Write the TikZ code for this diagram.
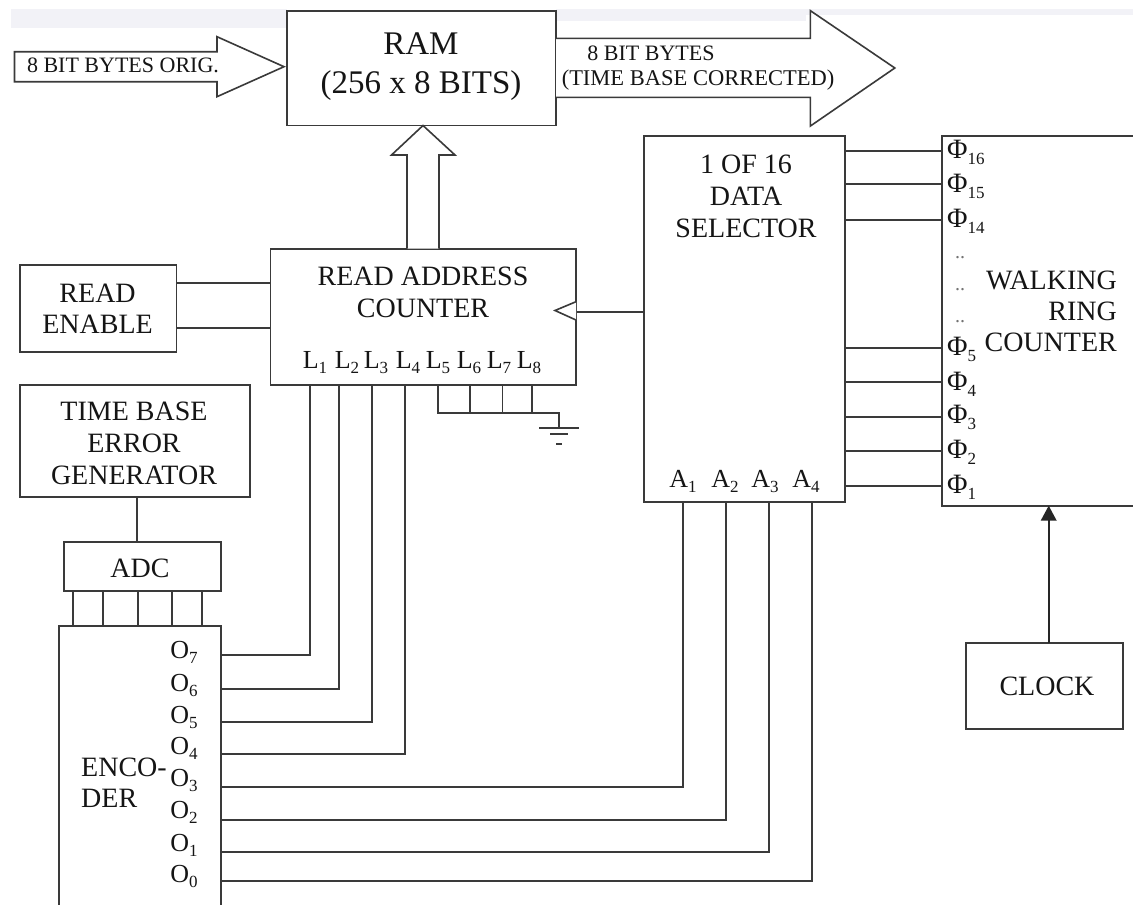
\documentclass[tikz,border=0pt]{standalone}
\usepackage{fontspec}
\setmainfont{Liberation Serif}
\usetikzlibrary{arrows.meta,calc}
\definecolor{ink}{HTML}{3A3A3A}
\definecolor{txt}{HTML}{151515}
\definecolor{band}{HTML}{F2F2F7}
\newcommand\fsz[1]{\fontsize{#1}{#1}\selectfont}
\newcommand\pinlab[2]{#1\raisebox{-0.22em}{\fsz{17}#2}}
\tikzset{
  blockbox/.style={draw=ink,line width=1.7pt,fill=white,inner sep=0pt,outer sep=0pt},
  wire/.style={draw=ink,line width=1.7pt},
  clockwire/.style={draw=black!85,line width=2.2pt},
  bigarrow/.style={draw=ink,line width=1.6pt,fill=white,line join=miter},
  tx/.style={text=txt,inner sep=0pt,align=center,font=\fsz{28}\linespread{1}\selectfont},
  pinlabel/.style={text=txt,inner sep=0pt,anchor=base,font=\fsz{26}},
  philabel/.style={text=txt,inner sep=0pt,anchor=base west,font=\fsz{28}},
  dots/.style={text=black!55,inner sep=0pt,font=\fsz{20}},
}
\newcommand\Bx[5]{\node[blockbox,minimum width={(#4-#2)*1pt},minimum height={(#5-#3)*1pt}] (#1) at ({(#2+#4)/2},{(#3+#5)/2}) {};}
\begin{document}
\begin{tikzpicture}[x=1pt,y=-1pt]
\useasboundingbox (0,0) rectangle (1133,905);
\clip (0,0) rectangle (1133,905);
\fill[white] (0,0) rectangle (1133,905);
% faint band at the top
\fill[band] (11,9) rectangle (287,28);
\fill[band] (556,9) rectangle (806,21);
\fill[band] (806,9) rectangle (1133,15);
% boxes
\Bx{ram}{287}{11}{556}{125.5}
\Bx{rac}{270.6}{248.7}{576}{385}
\Bx{ren}{20.3}{265}{176.4}{351.7}
\Bx{tbe}{20.3}{384.7}{250}{497}
\Bx{adc}{63.7}{541.7}{221.3}{591.3}
\Bx{enc}{59.3}{625.7}{221.3}{925}
\Bx{sel}{644.3}{136.3}{845}{501.7}
\Bx{ring}{942}{136.3}{1150}{505.7}
\Bx{clk}{966}{643.3}{1123.3}{728.7}
% block arrows
\draw[bigarrow] (14.5,51.7) -- (217,51.7) -- (217,36.7) -- (284,66.7) -- (217,96.7) -- (217,81.7) -- (14.5,81.7) -- cycle;
\coordinate (outt) at (894.8,68);
\draw[bigarrow] (ram.east |- 0,38.3) -- (810.4,38.3) -- (810.4,10.7) -- (outt) -- (810.4,126) -- (810.4,97.3) -- (ram.east |- 0,97.3);
\coordinate (upt) at (423,125.5);
\draw[bigarrow] (407,248.7) -- (407,155) -- (391.5,155) -- (upt) -- (455,155) -- (439,155) -- (439,248.7);
% read enable
\coordinate (re1) at (0,283);
\coordinate (re2) at (0,327.7);
\draw[wire] (ren.east |- re1) -- (rac.west |- re1);
\draw[wire] (ren.east |- re2) -- (rac.west |- re2);
% TBE to ADC, ADC to encoder
\coordinate (tb) at (137,0);
\draw[wire] (tbe.south -| tb) -- (adc.north -| tb);
\foreach \xx in {73,103,138,171.7,201.7}{
  \draw[wire] (adc.south -| \xx,0) -- (enc.north -| \xx,0);
}
% encoder to read address counter
\coordinate (c7) at (309.7,655.3);
\coordinate (c6) at (339,688.7);
\coordinate (c5) at (371.7,722);
\coordinate (c4) at (405.3,753.7);
\foreach \cc in {c7,c6,c5,c4}{
  \draw[wire,line join=miter] (enc.east |- \cc) -- (\cc) -- (rac.south -| \cc);
}
% encoder to selector
\coordinate (c3) at (682.7,787);
\coordinate (c2) at (726,820.3);
\coordinate (c1) at (769,851.7);
\coordinate (c0) at (812.3,880.7);
\foreach \cc in {c3,c2,c1,c0}{
  \draw[wire,line join=miter] (enc.east |- \cc) -- (\cc) -- (sel.south -| \cc);
}
% ground
\coordinate (g5) at (438,413);
\coordinate (g6) at (470,413);
\coordinate (g7) at (502.5,413);
\coordinate (g8) at (532,413);
\coordinate (gnd) at (559,427.7);
\draw[wire,line join=miter] (rac.south -| g5) -- (g5) -| (gnd);
\draw[wire] (rac.south -| g6) -- (g6);
\draw[wire] (rac.south -| g7) -- (g7);
\draw[wire] (rac.south -| g8) -- (g8);
\draw[wire] ($(gnd)+(-20,0)$) -- ($(gnd)+(20,0)$);
\draw[wire] ($(gnd)+(-9,6)$) -- ($(gnd)+(9,6)$);
\draw[wire] ($(gnd)+(-3,16)$) -- ($(gnd)+(3,16)$);
% selector to read address counter clock input
\coordinate (clkt) at (555,310.5);
\draw[wire] (rac.east |- 0,311.7) -- (sel.west |- 0,311.7);
\draw[bigarrow] (rac.east |- 0,301.7) -- (clkt) -- (rac.east |- 0,320);
% selector to ring
\foreach \yy in {151.3,184,220,348.3,381.7,417.3,450.7,486}{
  \draw[wire] (sel.east |- 0,\yy) -- (ring.west |- 0,\yy);
}
% clock to ring
\coordinate (ck) at (1048.7,0);
\draw[clockwire,-{Triangle[length=15pt,width=15.5pt]}] (clk.north -| ck) -- (ring.south -| ck);
% texts
\node[tx,font=\fsz{33}] (tram) at (421,66.5) {RAM\\[6pt](256 x 8 BITS)};
\node[tx,font=\fsz{22}] (tin) at (123,65) {8 BIT BYTES ORIG.};
\node[tx,font=\fsz{22}] (tout1) at (651,53) {8 BIT BYTES};
\node[tx,font=\fsz{22.5}] (tout2) at (698,80) {(TIME BASE CORRECTED)};
\node[tx] (tsel) at (746,196) {1 OF 16\\[4pt]DATA\\[4pt]SELECTOR};
\node[tx] (trac) at (423,292) {READ ADDRESS\\[4pt]COUNTER};
\node[tx] (tren) at (97.6,308.5) {READ\\[3pt]ENABLE};
\node[tx] (ttbe) at (134,443) {TIME BASE\\[4pt]ERROR\\[4pt]GENERATOR};
\node[tx] (tadc) at (140,568) {ADC};
\node[tx,align=left,anchor=west] (tenc) at (81,783) {ENCO-\\[3pt]DER};
\node[tx,align=right,anchor=east] (tring) at (1117,311) {WALKING\\[3pt]RING\\[3pt]COUNTER};
\node[tx] (tclk) at (1047,686) {CLOCK};
% L pins
\node[pinlabel] (l1) at (315,368) {\pinlab{L}{1}};
\node[pinlabel] (l2) at (347,368) {\pinlab{L}{2}};
\node[pinlabel] (l3) at (376,368) {\pinlab{L}{3}};
\node[pinlabel] (l4) at (408,368) {\pinlab{L}{4}};
\node[pinlabel] (l5) at (438,368) {\pinlab{L}{5}};
\node[pinlabel] (l6) at (469,368) {\pinlab{L}{6}};
\node[pinlabel] (l7) at (499,368) {\pinlab{L}{7}};
\node[pinlabel] (l8) at (529,368) {\pinlab{L}{8}};
% O pins
\node[pinlabel] (o7) at (184,658) {\pinlab{O}{7}};
\node[pinlabel] (o6) at (184,691) {\pinlab{O}{6}};
\node[pinlabel] (o5) at (184,723) {\pinlab{O}{5}};
\node[pinlabel] (o4) at (184,754) {\pinlab{O}{4}};
\node[pinlabel] (o3) at (184,786) {\pinlab{O}{3}};
\node[pinlabel] (o2) at (184,818) {\pinlab{O}{2}};
\node[pinlabel] (o1) at (184,851) {\pinlab{O}{1}};
\node[pinlabel] (o0) at (184,882) {\pinlab{O}{0}};
% A pins
\node[pinlabel] (a1) at (683,487) {\pinlab{A}{1}};
\node[pinlabel] (a2) at (725,487) {\pinlab{A}{2}};
\node[pinlabel] (a3) at (765,487) {\pinlab{A}{3}};
\node[pinlabel] (a4) at (806,487) {\pinlab{A}{4}};
% Phi pins
\node[philabel] (p16) at (947,158) {\pinlab{Φ}{16}};
\node[philabel] (p15) at (947,192) {\pinlab{Φ}{15}};
\node[philabel] (p14) at (947,227) {\pinlab{Φ}{14}};
\node[dots] (d1) at (960,258) {..};
\node[dots] (d2) at (960,290) {..};
\node[dots] (d3) at (960,322) {..};
\node[philabel] (p5) at (947,355) {\pinlab{Φ}{5}};
\node[philabel] (p4) at (947,390) {\pinlab{Φ}{4}};
\node[philabel] (p3) at (947,423) {\pinlab{Φ}{3}};
\node[philabel] (p2) at (947,458) {\pinlab{Φ}{2}};
\node[philabel] (p1) at (947,493) {\pinlab{Φ}{1}};
\end{tikzpicture}
\end{document}
